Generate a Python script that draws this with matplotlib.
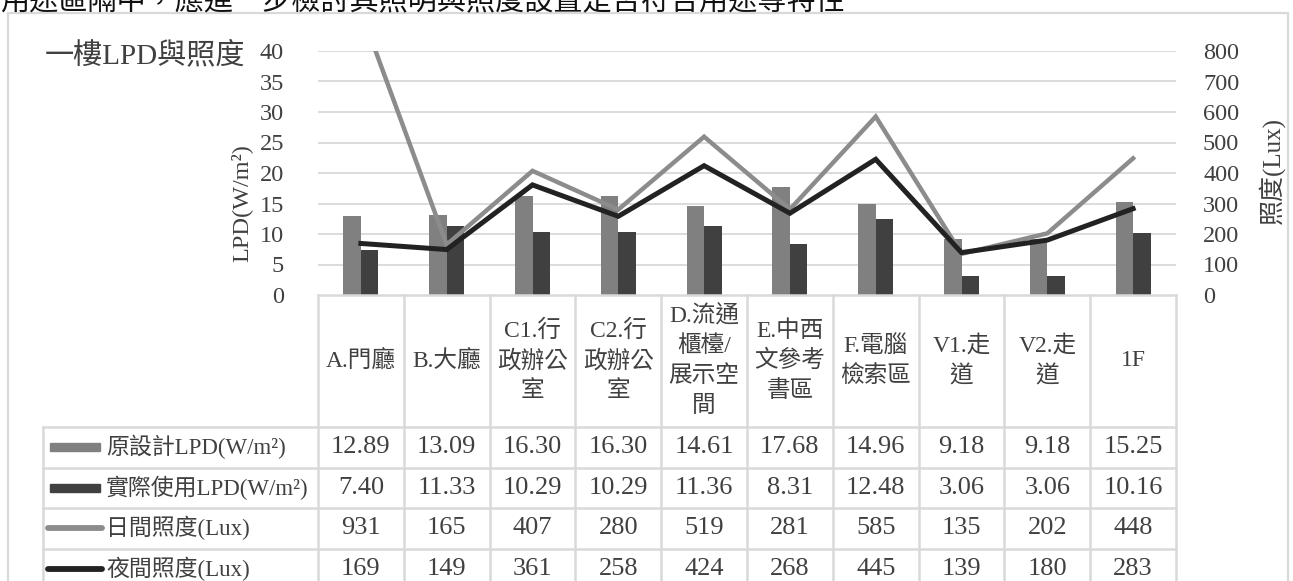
import matplotlib
matplotlib.use("Agg")
import matplotlib.pyplot as plt
import matplotlib.transforms as mtransforms
from matplotlib.lines import Line2D
from matplotlib.patches import Rectangle
import numpy as np

# ---- data ----
categories = ["A.門廳", "B.大廳", "C1.行\n政辦公\n室", "C2.行\n政辦公\n室",
              "D.流通\n櫃檯/\n展示空\n間", "E.中西\n文參考\n書區", "F.電腦\n檢索區",
              "V1.走\n道", "V2.走\n道", "1F"]
lpd_design = [12.89, 13.09, 16.30, 16.30, 14.61, 17.68, 14.96, 9.18, 9.18, 15.25]
lpd_actual = [7.40, 11.33, 10.29, 10.29, 11.36, 8.31, 12.48, 3.06, 3.06, 10.16]
lux_day = [931, 165, 407, 280, 519, 281, 585, 135, 202, 448]
lux_night = [169, 149, 361, 258, 424, 268, 445, 139, 180, 283]
series_names = ["原設計LPD(W/m²)", "實際使用LPD(W/m²)", "日間照度(Lux)", "夜間照度(Lux)"]
lpd_ticks = [0, 5, 10, 15, 20, 25, 30, 35, 40]
lux_ticks = [0, 100, 200, 300, 400, 500, 600, 700, 800]

FONT = ["Liberation Serif", "Noto Sans CJK TC", "DejaVu Sans"]
plt.rcParams["font.family"] = FONT

W, H = 1293, 581
fig = plt.figure(figsize=(W / 100, H / 100), dpi=100)
fig.patch.set_facecolor("white")
PT = 72 / 100  # points per pixel


def fx(px):
    return px / W


def fy(py):
    return 1 - py / H


TXT = "#404040"
GRID = "#d9d9d9"
C_DESIGN = "#808080"
C_ACTUAL = "#404040"
C_DAY = "#8c8c8c"
C_NIGHT = "#222222"

# outer chart frame and the caption line running above it
fig.patches.append(Rectangle((fx(8), fy(600)), fx(1288) - fx(8), fy(13) - fy(600),
                             transform=fig.transFigure, fill=False,
                             edgecolor=GRID, lw=1.6))
fig.text(fx(0), fy(15), "用途區隔中，應進一步檢討其照明與照度設置是否符合用途等特性",
         fontsize=21, color="#111111", ha="left", va="bottom", family=FONT)

# plot area
L, R, T, B = 318, 1176, 51, 295
ax = fig.add_axes([fx(L), fy(B), fx(R) - fx(L), fy(T) - fy(B)])
ax.set_facecolor("none")
x = np.arange(len(categories))
w = 0.205
ax.bar(x - w / 2, lpd_design, w, color=C_DESIGN, zorder=2)
ax.bar(x + w / 2, lpd_actual, w, color=C_ACTUAL, zorder=2)
ax.set_xlim(-0.5, len(categories) - 0.5)
ax.set_ylim(0, 40)
ax.set_yticks(lpd_ticks)
ax.set_xticks([])
for v in lpd_ticks[1:]:
    ax.axhline(v, color=GRID, lw=1.3, zorder=0)
for s in ax.spines.values():
    s.set_visible(False)
ax.tick_params(axis="y", length=0, pad=34 * PT, labelsize=17.5, labelcolor=TXT)

ax2 = ax.twinx()
ax2.plot(x, lux_day, color=C_DAY, lw=3.2, solid_joinstyle="miter", zorder=3)
ax2.plot(x, lux_night, color=C_NIGHT, lw=3.6, solid_joinstyle="miter", zorder=4)
ax2.set_ylim(0, 800)
ax2.set_yticks(lux_ticks)
for s in ax2.spines.values():
    s.set_visible(False)
ax2.tick_params(axis="y", length=0, pad=27 * PT, labelsize=17.5, labelcolor=TXT)
for lab in ax.get_yticklabels() + ax2.get_yticklabels():
    lab.set_fontfamily(FONT)

# axis titles
fig.text(fx(241), fy(203), "LPD(W/m²)", rotation=90, ha="center", va="center",
         fontsize=17.5, color=TXT, family=FONT)
fig.text(fx(1271), fy(170), "照度(Lux)", rotation=90, ha="center", va="center",
         fontsize=18, color=TXT, family=FONT)

# chart title
fig.text(fx(45), fy(55), "一樓LPD與照度", fontsize=21, color=TXT,
         ha="left", va="center", family=FONT)

# ---- data table under the plot ----
bt = mtransforms.blended_transform_factory(ax.transData, fig.transFigure)
row_edges = [295, 427, 467.5, 508, 548.5, 589]
LEG_L = 43


def fline(xs, ys, transform, **kw):
    fig.lines.append(Line2D(xs, ys, transform=transform, color=GRID, lw=1.8, **kw))


# vertical separators between categories
for i in range(len(categories) + 1):
    fline([i - 0.5, i - 0.5], [fy(295), fy(600)], bt)
# horizontal lines across the category columns
fline([-0.5, len(categories) - 0.5], [fy(295), fy(295)], bt)
for ye in row_edges[1:]:
    fline([fx(LEG_L), fx(L)], [fy(ye), fy(ye)], fig.transFigure)
    fline([-0.5, len(categories) - 0.5], [fy(ye), fy(ye)], bt)
fline([fx(LEG_L), fx(LEG_L)], [fy(427), fy(600)], fig.transFigure)

# header labels
line_pitch = 30
hc = (row_edges[0] + row_edges[1]) / 2
for i, cat in enumerate(categories):
    parts = cat.split("\n")
    n = len(parts)
    for k, p in enumerate(parts):
        yy = hc + (k - (n - 1) / 2) * line_pitch
        fig.text(i, fy(yy), p, transform=bt, ha="center", va="center",
                 fontsize=17, color=TXT, family=FONT)

# value rows
rows = [lpd_design, lpd_actual, lux_day, lux_night]
fmts = ["{:.2f}", "{:.2f}", "{:d}", "{:d}"]
for r, (vals, fmt) in enumerate(zip(rows, fmts)):
    yc = (row_edges[r + 1] + row_edges[r + 2]) / 2
    for i, v in enumerate(vals):
        fig.text(i, fy(yc), fmt.format(v), transform=bt, ha="center", va="center",
                 fontsize=19, color=TXT, family=FONT)
    # legend key + name
    if r < 2:
        col = C_DESIGN if r == 0 else C_ACTUAL
        fig.patches.append(Rectangle((fx(50), fy(yc + 4)), fx(100) - fx(50),
                                     fy(yc - 4) - fy(yc + 4),
                                     transform=fig.transFigure, color=col))
    else:
        col = C_DAY if r == 2 else C_NIGHT
        fig.lines.append(Line2D([fx(48), fx(102)], [fy(yc), fy(yc)],
                                transform=fig.transFigure, color=col,
                                lw=4.2, solid_capstyle="round"))
    fig.text(fx(106), fy(yc), series_names[r], ha="left", va="center",
             fontsize=16.5, color=TXT, family=FONT)

fig.savefig("out.png", dpi=100, facecolor="white")
